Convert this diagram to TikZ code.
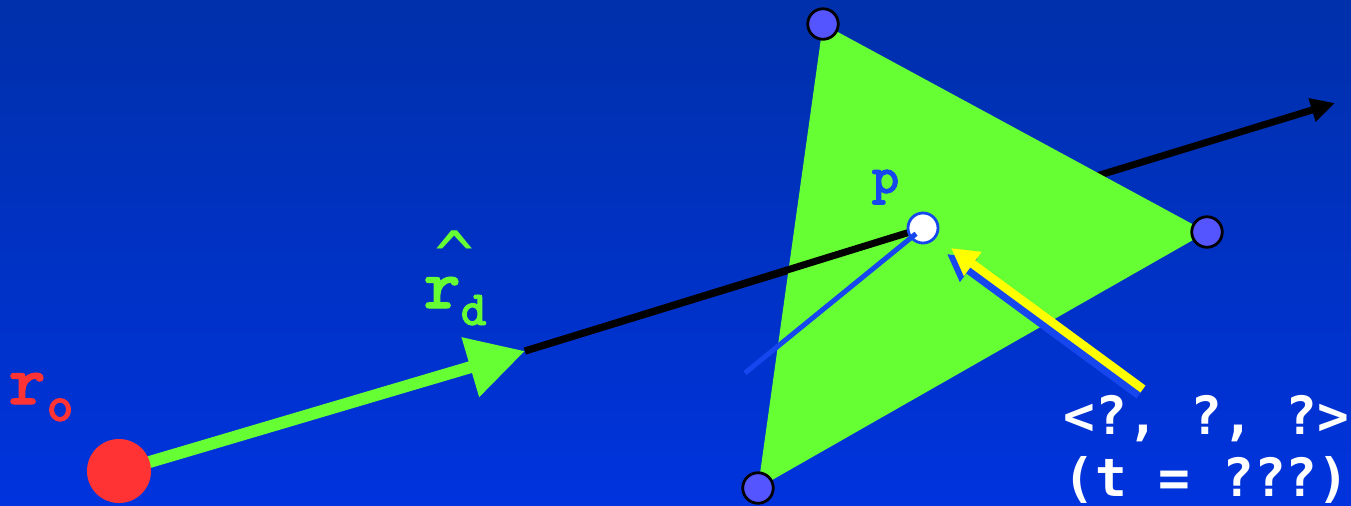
\documentclass[tikz,border=0pt]{standalone}
\usepackage{fontspec}
\newfontfamily\qfont{DejaVu Sans Mono}
\newfontfamily\labfont{lmmonolt10-bold.otf}[FakeBold=1.5]
\usetikzlibrary{arrows.meta}
\definecolor{bgtop}{RGB}{0,48,170}
\definecolor{bgbot}{RGB}{0,51,221}
\definecolor{tgreen}{RGB}{102,255,51}
\definecolor{tred}{RGB}{255,51,51}
\definecolor{vblue}{RGB}{85,85,255}
\definecolor{lblue}{RGB}{22,70,238}
\definecolor{tyellow}{RGB}{255,255,0}
\begin{document}
\begin{tikzpicture}[x=0.01cm,y=-0.01cm,
  vertex/.style={circle,draw=black,line width=0.028cm,fill=vblue,minimum size=0.305cm,inner sep=0},
  pnode/.style={circle,draw=lblue,line width=0.028cm,fill=white,minimum size=0.30cm,inner sep=0},
  origin/.style={circle,fill=tred,minimum size=0.64cm,inner sep=0},
  lab/.style={inner sep=0,anchor=base west},
  qlab/.style={inner sep=0,anchor=base west,text=white,font=\qfont\bfseries\fontsize{15pt}{18pt}\selectfont},
  ray/.style={line width=0.07cm,-{Triangle[length=0.24cm,width=0.23cm]}},
  dirarrow/.style={tgreen,line width=0.12cm,-{Triangle[length=0.57cm,width=0.59cm]}},
  yarrow/.style={line width=0.085cm,-{Triangle[length=0.27cm,width=0.28cm]}},
  normal/.style={lblue,line width=0.05cm}]
\useasboundingbox (0,0) rectangle (1351,505);
\shade[top color=bgtop,bottom color=bgbot] (0,0) rectangle (1351,505);
% key points
\coordinate (o) at (119,471);
\coordinate (g) at (525,351);
\coordinate (e) at (1335,103);
\coordinate (pc) at (923,228);
\coordinate (A) at (823,24);
\coordinate (B) at (1207,232);
\coordinate (C) at (758,488);
\coordinate (nb) at (745,373);
\coordinate (ytail) at (1143,389);
\coordinate (ytip) at (951,248);
% ray behind triangle
\draw[ray] (g) -- (e);
% triangle
\fill[tgreen] (A) -- (B) -- (C) -- cycle;
% ray segment to the hit point
\draw[line width=0.07cm] (g) -- (pc);
\node[pnode] (p) at (pc) {};
% normal line
\draw[normal,shorten >=0.09cm] (nb) -- (p.center);
% vertices
\node[vertex] (va) at (A) {};
\node[vertex] (vb) at (B) {};
\node[vertex] (vc) at (C) {};
% direction arrow
\draw[dirarrow] (o) -- (g);
\node[origin] (ro) at (o) {};
% yellow arrow with shadow
\draw[yarrow,lblue] ([shift={(-4,6)}]ytail) -- ([shift={(-4,6)}]ytip);
\draw[yarrow,tyellow] (ytail) -- (ytip);
% labels
\node[lab,text=tred,font=\labfont\fontsize{20pt}{22pt}\selectfont] (rolab) at (8,404) {r};
\node[lab,text=tred,font=\labfont\fontsize{14.5pt}{16pt}\selectfont] (rosub) at (46,421) {o};
\node[lab,text=tgreen,font=\labfont\fontsize{20pt}{22pt}\selectfont] (rdlab) at (423,308) {r};
\node[lab,text=tgreen,font=\labfont\fontsize{14pt}{16pt}\selectfont] (rdsub) at (460,325) {d};
\node[inner sep=0,anchor=south west,text=tgreen,font=\qfont\fontsize{19pt}{20pt}\selectfont] (rdhat) at (434,251) {\raisebox{-0.43em}[0.3em][0pt]{\char`\^}};
\node[lab,text=lblue,font=\labfont\fontsize{15pt}{17pt}\selectfont] (plab) at (871,193) {p};
\node[qlab] (q1) at (1063,434) {<?, ?, ?>};
\node[qlab] (q2) at (1063,496) {(t = ???)};
\end{tikzpicture}
\end{document}
